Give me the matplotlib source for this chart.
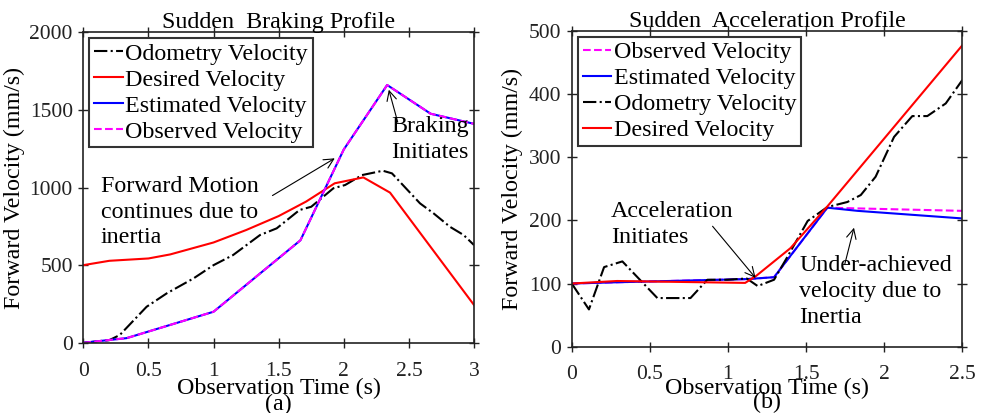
import matplotlib
matplotlib.use("Agg")
import matplotlib.pyplot as plt

plt.rcParams["font.family"] = ["Liberation Serif", "DejaVu Serif"]
plt.rcParams["font.size"] = 17.3

# (a) sudden braking profile
brk_t_odo = [0, 0.2, 0.28, 0.486, 0.64, 0.845, 1.0, 1.15, 1.357, 1.485, 1.66, 1.75,
             1.92, 2.01, 2.14, 2.30, 2.37, 2.585, 2.69, 2.815, 2.92, 3.0]
brk_v_odo = [0, 17, 50, 232, 318, 414, 500, 565, 694, 737, 855, 876,
             995, 1016, 1080, 1108, 1091, 898, 833, 747, 694, 629]
brk_t_des = [0, 0.2, 0.5, 0.667, 1.0, 1.25, 1.5, 1.71, 1.93, 2.15, 2.355, 3.0]
brk_v_des = [500, 528, 543, 569, 646, 726, 816, 909, 1027, 1065, 967, 243]
brk_t_est = [0, 0.333, 1.0, 1.667, 2.0, 2.333, 2.667, 3.0]
brk_v_est = [0, 30, 200, 660, 1245, 1660, 1475, 1410]
brk_v_obs = [0, 30, 200, 660, 1245, 1660, 1475, 1410]

# (b) sudden acceleration profile
acc_t_odo = [0, 0.11, 0.207, 0.324, 0.548, 0.76, 0.868, 0.996, 1.12, 1.19, 1.295,
             1.38, 1.51, 1.636, 1.764, 1.85, 1.945, 2.063, 2.18, 2.276, 2.394, 2.5]
acc_v_odo = [100, 59, 126, 135, 77, 77, 106, 106, 108, 96, 106,
             142, 199, 221, 229, 240, 269, 332, 365, 365, 385, 422]
acc_t_des = [0, 0.29, 1.11, 1.18, 1.4, 1.636, 2.5]
acc_v_des = [100, 104, 101, 112, 156, 222, 477]
acc_t_est = [0, 0.29, 1.12, 1.295, 1.636, 1.83, 2.5]
acc_v_est = [100, 102, 107, 110, 220, 215, 203]
acc_t_obs = [0, 0.29, 1.12, 1.295, 1.636, 2.5]
acc_v_obs = [100, 102, 107, 110, 220, 215]

LW = 1.5
FS = 17.3
TICK_FS = 15.5
fig = plt.figure(figsize=(9.88, 4.13), dpi=100)
ax1 = fig.add_axes([0.0843, 0.170, 0.3955, 0.752])
ax2 = fig.add_axes([0.5787, 0.1605, 0.3953, 0.765])

ax1.plot(brk_t_odo, brk_v_odo, color="black", ls="-.", lw=LW, label="Odometry Velocity")
ax1.plot(brk_t_des, brk_v_des, color="red", lw=LW, label="Desired Velocity")
ax1.plot(brk_t_est, brk_v_est, color="blue", lw=LW, label="Estimated Velocity")
ax1.plot(brk_t_est, brk_v_obs, color="magenta", ls="--", lw=LW, label="Observed Velocity")
ax1.set_xlim(0, 3)
ax1.set_ylim(0, 2000)
ax1.set_xticks([0, 0.5, 1, 1.5, 2, 2.5, 3])
ax1.set_xticklabels(["0", "0.5", "1", "1.5", "2", "2.5", "3"])
ax1.set_yticks([0, 500, 1000, 1500, 2000])
ax1.set_title("Sudden  Braking Profile", fontsize=FS, pad=3)
ax1.set_ylabel("Forward Velocity (mm/s)", labelpad=3)
ax1.set_xlabel("Observation Time (s)", labelpad=-2)
ax1.text(0.5, -0.2, "(a)", transform=ax1.transAxes, ha="center", va="center")
ax1.annotate("", xy=(1.949, 1197), xytext=(1.434, 939),
             arrowprops=dict(arrowstyle="->", color="black", lw=0.8))
ax1.text(0.136, 1075, "Forward Motion\ncontinues due to\ninertia", ha="left", va="top",
         linespacing=1.3)
ax1.annotate("", xy=(2.34, 1647), xytext=(2.42, 1403),
             arrowprops=dict(arrowstyle="->", color="black", lw=0.8))
ax1.text(2.66, 1460, "Braking\nInitiates", ha="center", va="top", linespacing=1.3)

ax2.plot(acc_t_obs, acc_v_obs, color="magenta", ls="--", lw=LW, label="Observed Velocity")
ax2.plot(acc_t_est, acc_v_est, color="blue", lw=LW, label="Estimated Velocity")
ax2.plot(acc_t_odo, acc_v_odo, color="black", ls="-.", lw=LW, label="Odometry Velocity")
ax2.plot(acc_t_des, acc_v_des, color="red", lw=LW, label="Desired Velocity")
ax2.set_xlim(0, 2.5)
ax2.set_ylim(0, 500)
ax2.set_xticks([0, 0.5, 1, 1.5, 2, 2.5])
ax2.set_xticklabels(["0", "0.5", "1", "1.5", "2", "2.5"])
ax2.set_yticks([0, 100, 200, 300, 400, 500])
ax2.set_title("Sudden  Acceleration Profile", fontsize=FS, pad=3)
ax2.set_ylabel("Forward Velocity (mm/s)", labelpad=4)
ax2.set_xlabel("Observation Time (s)", labelpad=-5)
ax2.text(0.5, -0.178, "(b)", transform=ax2.transAxes, ha="center", va="center")
ax2.annotate("", xy=(1.188, 105.5), xytext=(0.89, 194),
             arrowprops=dict(arrowstyle="->", color="black", lw=0.8))
ax2.text(0.25, 230, "Acceleration\nInitiates", ha="left", va="top", linespacing=1.3)
ax2.annotate("", xy=(1.811, 192.6), xytext=(1.743, 126),
             arrowprops=dict(arrowstyle="->", color="black", lw=0.8))
ax2.text(1.455, 145, "Under-achieved\nvelocity due to\nInertia", ha="left", va="top",
         linespacing=1.3)

for ax in (ax1, ax2):
    ax.tick_params(direction="inout", top=True, right=True, length=7, width=1.0,
                   labelsize=TICK_FS, colors="#222222")
    ax.tick_params(axis="x", pad=10)
    ax.tick_params(axis="y", pad=4)
    for sp in ax.spines.values():
        sp.set_linewidth(1.2)
        sp.set_color("#222222")
    leg = ax.legend(loc="upper left", handlelength=1.2, handletextpad=0.1,
                    labelspacing=0.17, borderpad=0.2, borderaxespad=0.25,
                    fancybox=False, framealpha=1, fontsize=FS)
    leg.get_frame().set_edgecolor("#333333")
    leg.get_frame().set_linewidth(1.5)

fig.savefig("out.png", dpi=100)
